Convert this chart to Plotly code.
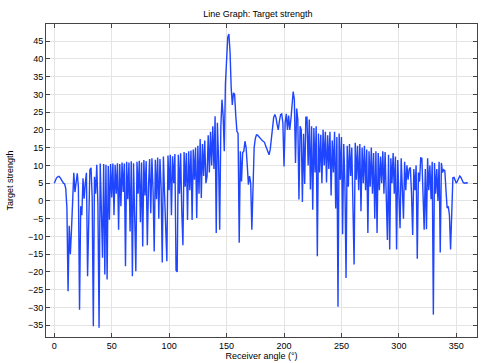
import plotly.graph_objects as go

# Receiver angles (degrees), 1-degree sampling
angle_deg = list(range(0, 361))

# Target strength values, one per degree
ts_000_039 = [5.0, 5.9, 6.5, 6.8, 6.9, 6.6, 6.0, 5.4, 5.0, 4.8,
              3.5, -2.0, -25.4, -7.0, -15.0, -8.0, 2.0, 7.9, 2.5, 6.0,
              7.8, 4.0, -30.6, -1.5, -4.0, 6.4, 0.6, 5.0, 7.9, -21.2,
              0.0, 8.8, 9.3, 1.0, -35.3, 6.8, 2.0, 10.2, -1.0, -35.7]
ts_040_079 = [10.5, 0.5, -16.0, 10.4, -20.7, 10.2, -22.1, 9.8, -5.3, 10.4,
              1.0, 10.5, -4.0, 10.2, 2.0, 10.6, -8.1, 10.4, -1.5, 10.8,
              2.5, 10.5, -18.4, 11.0, 0.5, 10.8, -8.6, 11.2, -21.2, 10.6,
              -3.0, -19.8, 11.0, 2.0, 11.3, -6.0, 10.8, -12.8, 11.5, 1.5]
ts_080_119 = [11.2, -12.5, 4.0, 11.8, -3.5, 12.0, 3.0, -14.2, 11.6, 0.5,
              12.2, -5.0, 11.8, 4.0, -17.3, 12.5, 2.0, -12.0, -17.0, 12.8,
              3.0, 13.0, -4.0, 12.6, 5.0, 13.2, -19.5, -20.0, 13.0, 2.0,
              13.4, -3.0, -12.5, 13.8, 4.0, 13.5, -5.4, 14.0, 3.0, 14.2]
ts_120_159 = [-5.4, 14.5, 6.0, 15.0, -4.8, 15.5, 2.0, 17.4, 0.8, 16.0,
              7.0, 17.0, 5.0, 6.9, 18.5, 8.0, 19.5, 10.0, 21.0, 9.0,
              23.8, -9.0, 22.0, 12.0, -8.1, 21.0, 28.5, 24.0, 14.0, 33.0,
              40.0, 46.0, 47.0, 42.0, 32.0, 27.0, 30.4, 30.0, 24.0, 19.6]
ts_160_199 = [19.0, -11.8, 14.0, 5.5, 13.6, 14.0, 16.8, 15.0, 10.0, 4.6,
              7.0, 5.0, -8.1, 8.0, 15.0, 17.5, 18.6, 18.5, 18.2, 17.8,
              17.4, 17.0, 16.8, 16.5, 15.5, 14.5, 13.5, 13.0, 14.5, 18.0,
              21.5, 23.5, 24.3, 23.5, 21.5, 20.0, 22.5, 24.3, 24.5, 22.0]
ts_200_239 = [9.7, 22.0, 24.5, 20.0, 24.0, 20.0, 23.0, 28.0, 30.8, 28.5,
              10.7, 26.0, 23.0, 0.4, 21.0, 20.0, -0.3, 18.9, 4.8, 23.6,
              23.6, 10.0, 22.9, 3.2, 21.0, -2.5, 20.5, 8.0, 21.0, -15.6,
              19.0, 8.0, 18.6, 5.0, 20.0, 10.0, 19.5, 5.2, 18.5, 9.0]
ts_240_279 = [19.5, 1.5, 17.0, 8.0, 19.5, -2.1, 18.0, -29.8, 19.0, 6.0,
              18.0, -9.4, 16.0, 5.0, -21.7, 15.5, 4.0, 16.0, 7.0, 15.0,
              2.0, -17.9, 16.4, 6.0, 15.5, 3.0, 16.0, -2.9, 15.0, 5.0,
              15.5, 3.0, 14.5, -9.0, 14.0, 4.0, 15.0, 2.0, 13.5, -5.0]
ts_280_319 = [14.0, -9.0, 13.5, 3.0, 12.5, 5.0, 14.0, 2.0, 13.8, -3.0,
              -11.0, 13.0, -13.7, 12.0, 5.0, 13.5, 2.0, 12.5, -13.7, 11.5,
              4.0, -7.7, 12.0, 5.0, -5.0, 11.0, 3.0, 10.0, 6.0, 9.0,
              9.4, 2.0, -9.6, 9.0, 3.0, 10.0, -16.3, 8.0, 5.4, 12.1]
ts_320_360 = [12.0, 2.0, -8.1, 9.0, -8.0, 12.0, 3.0, 10.0, 0.5, 11.0,
              -32.0, 10.7, 2.0, 9.0, 0.0, 11.0, -14.5, 10.7, 8.0, 8.8,
              8.5, 3.0, -2.0, -1.5, -4.0, -13.7, -2.0, 6.5, 6.6, 5.5,
              5.0, 5.6, 6.6, 7.0, 6.6, 5.8, 5.2, 5.0, 5.1, 5.1,
              5.0]

target_strength = (ts_000_039 + ts_040_079 + ts_080_119 + ts_120_159 +
                   ts_160_199 + ts_200_239 + ts_240_279 + ts_280_319 +
                   ts_320_360)

x_ticks = [0, 50, 100, 150, 200, 250, 300, 350]
y_ticks = [-35, -30, -25, -20, -15, -10, -5, 0, 5, 10, 15, 20, 25, 30, 35, 40, 45]

font_family = "Liberation Sans, Arial, sans-serif"

fig = go.Figure()
fig.add_trace(go.Scatter(
    x=angle_deg, y=target_strength, mode="lines",
    line=dict(color="#1f45ff", width=1.4),
    showlegend=False, hoverinfo="skip"))

axis_common = dict(
    showline=True, linecolor="#444444", linewidth=1, mirror="allticks",
    ticks="inside", ticklen=4, tickcolor="#444444",
    showgrid=True, gridcolor="#e4e4e4", gridwidth=1, zeroline=False,
    tickfont=dict(family=font_family, size=9, color="#000000"),
)

fig.update_xaxes(range=[-7.2, 368], tickvals=x_ticks,
                 title=dict(text="Receiver angle (°)", standoff=0,
                            font=dict(family=font_family, size=9, color="#000000")),
                 **axis_common)
fig.update_yaxes(range=[-38.3, 49.8], tickvals=y_ticks,
                 title=dict(text="Target strength", standoff=12,
                            font=dict(family=font_family, size=9, color="#000000")),
                 **axis_common)

fig.update_layout(
    width=482, height=363,
    margin=dict(l=46, r=5, t=24, b=26),
    paper_bgcolor="white", plot_bgcolor="white",
    hovermode=False,
    title=dict(text="Line Graph: Target strength", x=0.535, xanchor="center",
               y=0.963, yanchor="middle",
               font=dict(family=font_family, size=9, color="#000000")),
)

fig.write_html("out.html",
               config={"displayModeBar": False},
               post_script="document.body.style.margin='0';document.body.style.overflow='hidden';")
